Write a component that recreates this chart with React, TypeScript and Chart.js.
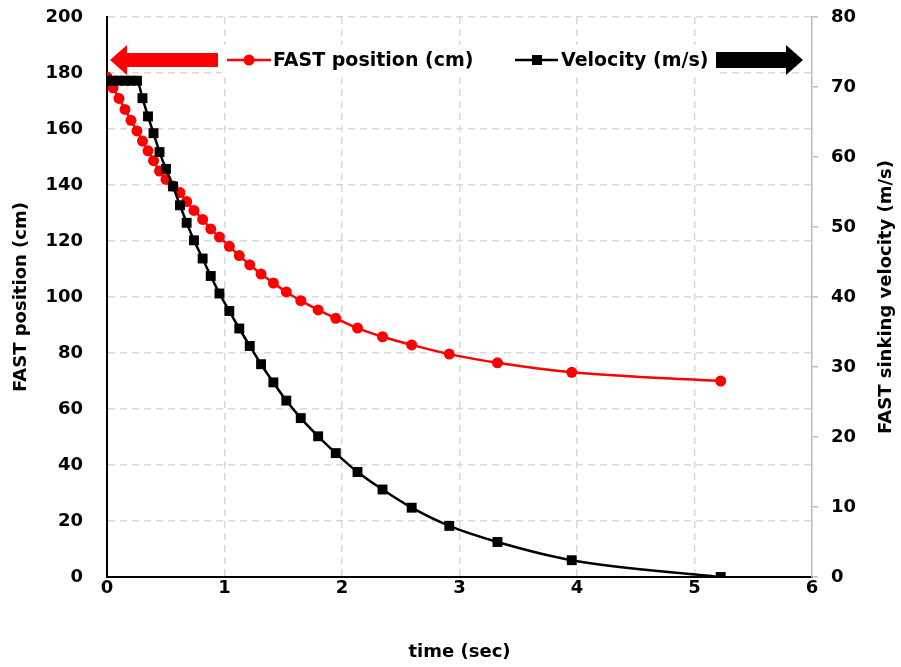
import React, { useEffect, useRef } from "react";
import { Chart, registerables } from "chart.js";

Chart.register(...registerables);

// ---- data ----
const timeSec = [0.000, 0.051, 0.102, 0.153, 0.204, 0.255, 0.302, 0.349, 0.396, 0.447, 0.502, 0.562, 0.621, 0.678, 0.740, 0.814, 0.883, 0.957, 1.041, 1.126, 1.215, 1.311, 1.416, 1.526, 1.649, 1.797, 1.947, 2.132, 2.345, 2.593, 2.913, 3.323, 3.955, 5.223];
const positionCm = [178.6, 174.7, 170.9, 167.0, 163.1, 159.3, 155.7, 152.2, 148.7, 145.0, 142.0, 139.6, 137.3, 134.1, 130.9, 127.7, 124.3, 121.4, 118.1, 114.8, 111.5, 108.2, 105.0, 101.8, 98.7, 95.4, 92.4, 88.9, 85.8, 82.9, 79.6, 76.5, 73.1, 70.0];
const velocityMs = [70.9, 70.9, 70.9, 70.9, 70.9, 70.9, 68.4, 65.8, 63.4, 60.7, 58.3, 55.8, 53.1, 50.6, 48.1, 45.5, 43.0, 40.5, 38.0, 35.5, 33.0, 30.4, 27.8, 25.2, 22.7, 20.1, 17.7, 15.0, 12.5, 9.9, 7.3, 5.0, 2.4, 0];

const xTicks = [0, 1, 2, 3, 4, 5, 6];
const yLeftTicks = [0, 20, 40, 60, 80, 100, 120, 140, 160, 180, 200];
const yRightTicks = [0, 10, 20, 30, 40, 50, 60, 70, 80];

const seriesLabels = ["FAST position (cm)", "Velocity (m/s)"];
const xTitle = "time (sec)";
const yLeftTitle = "FAST position (cm)";
const yRightTitle = "FAST sinking velocity (m/s)";

const RED = "#ff0000";
const BLACK = "#000000";
const GRID = "#d9d9d9";
const FONT = "'DejaVu Sans', sans-serif";

const overlayPlugin = {
  id: "overlay",
  afterDraw(chart: any) {
    const { ctx, chartArea } = chart;
    const L = chartArea.left;
    const T = chartArea.top;
    const R = chartArea.right;
    const cy = T + 43; // legend centre line
    ctx.save();
    // legend background band
    ctx.fillStyle = "#ffffff";
    ctx.fillRect(L + 115, cy - 15, R - L - 210, 30);

    // red arrow pointing left
    ctx.fillStyle = RED;
    ctx.beginPath();
    ctx.moveTo(L + 3, cy);
    ctx.lineTo(L + 20, cy - 15);
    ctx.lineTo(L + 20, cy - 7);
    ctx.lineTo(L + 111, cy - 7);
    ctx.lineTo(L + 111, cy + 7);
    ctx.lineTo(L + 20, cy + 7);
    ctx.lineTo(L + 20, cy + 15);
    ctx.closePath();
    ctx.fill();

    // black arrow pointing right
    ctx.fillStyle = BLACK;
    ctx.beginPath();
    ctx.moveTo(R - 9, cy);
    ctx.lineTo(R - 26, cy - 15);
    ctx.lineTo(R - 26, cy - 8);
    ctx.lineTo(R - 96, cy - 8);
    ctx.lineTo(R - 96, cy + 8);
    ctx.lineTo(R - 26, cy + 8);
    ctx.lineTo(R - 26, cy + 15);
    ctx.closePath();
    ctx.fill();

    ctx.font = `bold 19px ${FONT}`;
    ctx.textBaseline = "middle";
    ctx.textAlign = "left";

    // legend item 1: red line + circle
    ctx.strokeStyle = RED;
    ctx.lineWidth = 2.5;
    ctx.beginPath();
    ctx.moveTo(L + 120, cy);
    ctx.lineTo(L + 164, cy);
    ctx.stroke();
    ctx.fillStyle = RED;
    ctx.beginPath();
    ctx.arc(L + 142, cy, 5.5, 0, Math.PI * 2);
    ctx.fill();
    ctx.fillStyle = BLACK;
    ctx.fillText(seriesLabels[0], L + 166, cy + 1);

    // legend item 2: black line + square
    ctx.strokeStyle = BLACK;
    ctx.beginPath();
    ctx.moveTo(L + 408, cy);
    ctx.lineTo(L + 451, cy);
    ctx.stroke();
    ctx.fillRect(L + 425, cy - 5, 10, 10);
    ctx.fillText(seriesLabels[1], L + 454, cy + 1);

    // right axis title, reading bottom-to-top
    ctx.font = `bold 18px ${FONT}`;
    ctx.save();
    ctx.translate(chart.width - 15, (chartArea.top + chartArea.bottom) / 2);
    ctx.rotate(-Math.PI / 2);
    ctx.textAlign = "center";
    ctx.fillText(yRightTitle, 0, 0);
    ctx.restore();

    ctx.restore();
  },
};

export default function App() {
  const canvasRef = useRef<HTMLCanvasElement>(null);

  useEffect(() => {
    const canvas = canvasRef.current;
    if (!canvas) return;

    const tickFont = { family: FONT, size: 18, weight: "bold" as const };
    const fitVertical = (w: number) => (s: any) => {
      s.width = w;
      s.paddingTop = 0;
      s.paddingBottom = 0;
    };

    const chart = new Chart(canvas, {
      type: "line",
      data: {
        datasets: [
          {
            label: seriesLabels[1],
            data: timeSec.map((t, i) => ({ x: t, y: velocityMs[i] })),
            yAxisID: "y1",
            borderColor: BLACK,
            backgroundColor: BLACK,
            borderWidth: 2.5,
            pointStyle: "rect",
            pointRadius: 7,
            pointBorderWidth: 0,
            cubicInterpolationMode: "monotone",
          },
          {
            label: seriesLabels[0],
            data: timeSec.map((t, i) => ({ x: t, y: positionCm[i] })),
            yAxisID: "y",
            borderColor: RED,
            backgroundColor: RED,
            borderWidth: 2.5,
            pointStyle: "circle",
            pointRadius: 5.5,
            pointBorderWidth: 0,
            cubicInterpolationMode: "monotone",
          },
        ],
      },
      options: {
        animation: false,
        responsive: true,
        maintainAspectRatio: false,
        layout: { padding: { top: 17, left: 0, right: 0, bottom: 0 } },
        plugins: {
          legend: { display: false },
          tooltip: { enabled: false },
        },
        scales: {
          x: {
            type: "linear",
            min: xTicks[0],
            max: xTicks[xTicks.length - 1],
            afterBuildTicks: (s: any) => {
              s.ticks = xTicks.map((v) => ({ value: v }));
            },
            afterFit: (s: any) => {
              s.height = 90;
              s.paddingLeft = 0;
              s.paddingRight = 0;
            },
            ticks: { font: tickFont, color: BLACK, padding: 1 },
            grid: { color: GRID, lineWidth: 1.5, drawTicks: false },
            border: { color: BLACK, width: 2, dash: [7, 5] },
            title: {
              display: true,
              text: xTitle,
              font: tickFont,
              color: BLACK,
              padding: { top: 0, bottom: 4 },
            },
          },
          y: {
            type: "linear",
            position: "left",
            min: yLeftTicks[0],
            max: yLeftTicks[yLeftTicks.length - 1],
            afterBuildTicks: (s: any) => {
              s.ticks = yLeftTicks.map((v) => ({ value: v }));
            },
            afterFit: fitVertical(107),
            ticks: { font: tickFont, color: BLACK, padding: 24 },
            grid: { color: GRID, lineWidth: 1.5, drawTicks: false },
            border: { color: BLACK, width: 2, dash: [7, 5] },
            title: {
              display: true,
              text: yLeftTitle,
              font: tickFont,
              color: BLACK,
              padding: { top: 11, bottom: 0 },
            },
          },
          y1: {
            type: "linear",
            position: "right",
            min: yRightTicks[0],
            max: yRightTicks[yRightTicks.length - 1],
            afterBuildTicks: (s: any) => {
              s.ticks = yRightTicks.map((v) => ({ value: v }));
            },
            afterFit: fitVertical(89),
            ticks: { font: tickFont, color: BLACK, padding: 13 },
            grid: {
              drawOnChartArea: false,
              drawTicks: true,
              tickLength: 6,
              color: "#bfbfbf",
              lineWidth: 1.5,
            },
            border: { color: "#bfbfbf", width: 1.5 },
          },
        },
      },
      plugins: [overlayPlugin],
    });

    return () => chart.destroy();
  }, []);

  return (
    <div
      style={{
        position: "fixed",
        left: 0,
        top: 0,
        width: 901,
        height: 667,
        background: "#ffffff",
      }}
    >
      <canvas ref={canvasRef} />
    </div>
  );
}
